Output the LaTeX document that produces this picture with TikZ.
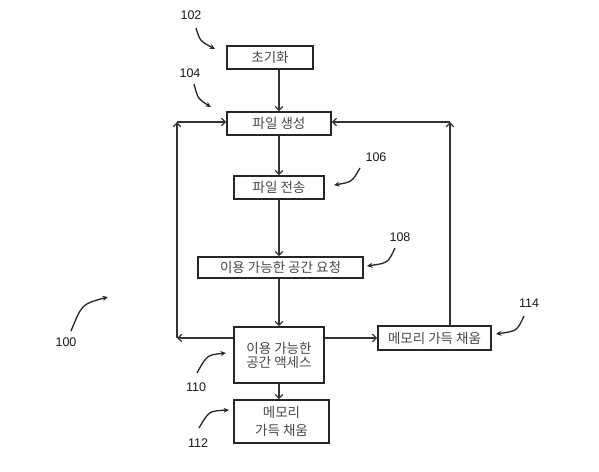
\documentclass[tikz,border=0pt]{standalone}
\usepackage{fontspec}
\setmainfont{Liberation Sans}
\newfontfamily\kr{Noto Sans CJK KR}
\usetikzlibrary{arrows.meta}
\begin{document}
\begin{tikzpicture}[x=1pt,y=-1pt,
  box/.style={draw=black!85,line width=1.5pt,inner sep=0pt,align=center,text=black!72,font=\kr\fontsize{13.5}{14}\selectfont},
  flow/.style={draw=black!80,line width=1.5pt,-{Straight Barb[length=4pt,width=7.5pt,line width=1.2pt]}},
  lbl/.style={font=\fontsize{12.5}{14}\selectfont,text=black!90},
  callout/.style={draw=black!85,line width=1.3pt,-{Stealth[length=5.5pt,width=5pt]}}]
\useasboundingbox (0,0) rectangle (599,471);
% boxes
\node[box,minimum width=86pt,minimum height=23pt] (init) at (270,57.5) {초기화};
\node[box,minimum width=104pt,minimum height=23pt] (gen) at (279,123.5) {파일 생성};
\node[box,minimum width=90pt,minimum height=23pt] (trans) at (279,187.5) {파일 전송};
\node[box,minimum width=165pt,minimum height=21pt] (req) at (280.5,267.5) {이용 가능한 공간 요청};
\node[box,minimum width=90pt,minimum height=56pt] (acc) at (279,355) {이용 가능한\\공간 액세스};
\node[box,minimum width=95pt,minimum height=43pt] (mem) at (281.5,421.5) {메모리\\[4pt]가득 채움};
\node[box,minimum width=113pt,minimum height=24pt] (full) at (434.5,338) {메모리 가득 채움};
% loop coordinates
\coordinate (lb) at (177,338);
\coordinate (lt) at (177,122);
\coordinate (rt) at (450,122);
\coordinate (rb) at (450,326);
% flow arrows
\draw[flow] (gen.north |- init.south) -- (gen.north);
\draw[flow] (gen.south) -- (gen.south |- trans.north);
\draw[flow] (trans.south) -- (trans.south |- req.north);
\draw[flow] (acc.north |- req.south) -- (acc.north);
\draw[flow] (acc.south) -- (acc.south |- mem.north);
\draw[flow] (acc.east |- full.west) -- (full.west);
% left loop
\draw[flow] (acc.west |- lb) -- (lb);
\draw[flow] (lb) -- (lt);
\draw[flow] (lt) -- (gen.west |- lt);
% right loop
\draw[flow] (rb) -- (rt);
\draw[flow] (rt) -- (gen.east |- rt);
% reference labels
\node[lbl] (n102) at (191,15) {102};
\node[lbl] (n104) at (190,73) {104};
\node[lbl] (n106) at (376,157) {106};
\node[lbl] (n108) at (400,237) {108};
\node[lbl] (n114) at (529,303) {114};
\node[lbl] (n100) at (66,342) {100};
\node[lbl] (n110) at (196,387) {110};
\node[lbl] (n112) at (198,443) {112};
\coordinate (a102) at (215,49);
\coordinate (a104) at (211,107);
\coordinate (a106) at (334,185);
\coordinate (a108) at (367,266);
\coordinate (a114) at (496,334);
\coordinate (a100) at (108,297);
\coordinate (a110) at (226,353);
\coordinate (a112) at (229,410);
\draw[callout] (196,28) .. controls (200,41) .. (a102);
\draw[callout] (194,84) .. controls (198,99) .. (a104);
\draw[callout] (360,168) .. controls (352,182) .. (a106);
\draw[callout] (395,248) .. controls (388,263) .. (a108);
\draw[callout] (524,316) .. controls (517,331) .. (a114);
\draw[callout] (71,331) .. controls (82,304) .. (a100);
\draw[callout] (197,373) .. controls (207,355) .. (a110);
\draw[callout] (199,428) .. controls (209,411) .. (a112);
\end{tikzpicture}
\end{document}
